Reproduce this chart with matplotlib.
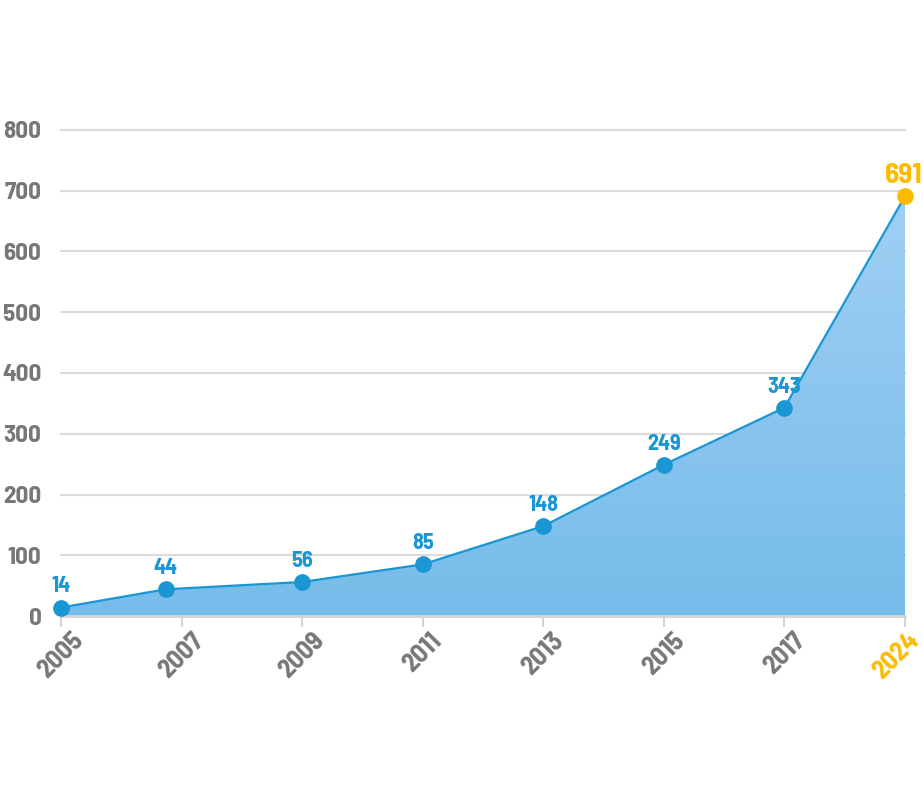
import numpy as np
import matplotlib
matplotlib.use('Agg')
import matplotlib.pyplot as plt
import matplotlib.transforms as mtransforms
from matplotlib.colors import LinearSegmentedColormap
from matplotlib import font_manager

years = ['2005', '2007', '2009', '2011', '2013', '2015', '2017', '2024']
values = [14, 44, 56, 85, 148, 249, 343, 691]
# the 2007 point sits a bit left of its tick in the original
xpos = [0, 0.87, 2, 3, 4, 5, 6, 7]
yticks = [0, 100, 200, 300, 400, 500, 600, 700, 800]

names = {f.name for f in font_manager.fontManager.ttflist}
fam = 'DejaVu Sans'
for cand in ['Barlow Semi Condensed', 'Roboto Condensed', 'Archivo Narrow', 'Oswald']:
    if cand in names:
        fam = cand
        break
plt.rcParams['font.family'] = [fam, 'DejaVu Sans']
plt.rcParams['font.weight'] = 'bold'

blue = '#1a96d4'
yellow = '#fdbb00'
gray = '#777777'

fig = plt.figure(figsize=(9.23, 7.92), dpi=100)
ax = fig.add_axes([0.066, 0.2222, 0.9145, 0.6137])

ax.set_xlim(0, 7)
ax.set_ylim(0, 800)

for y in yticks[1:]:
    ax.axhline(y, color='#dcdcdc', lw=1.5, zorder=0, clip_on=False)

# gradient area
poly = ax.fill_between(xpos, values, 0, color='none', lw=0)
cmap = LinearSegmentedColormap.from_list('g', ['#76bcea', '#a0cff3'])
grad = np.linspace(0, 1, 256).reshape(-1, 1)
im = ax.imshow(grad, cmap=cmap, origin='lower', aspect='auto',
               extent=[0, 7, 0, max(values)], zorder=1)
im.set_clip_path(poly.get_paths()[0], transform=ax.transData)

ax.plot(xpos, values, color=blue, lw=1.6, zorder=2)
ax.plot(xpos[:-1], values[:-1], 'o', color=blue, ms=11, zorder=3, clip_on=False)
ax.plot(xpos[-1], values[-1], 'o', color=yellow, ms=11, zorder=3, clip_on=False)

for x, v in zip(xpos[:-1], values[:-1]):
    ax.annotate(str(v), (x, v), xytext=(0, 8), textcoords='offset points',
                ha='center', va='bottom', color=blue, fontsize=16, fontweight='bold')
ax.annotate(str(values[-1]), (xpos[-1], values[-1]), xytext=(-1, 6), textcoords='offset points',
            ha='center', va='bottom', color=yellow, fontsize=21, fontweight='bold',
            annotation_clip=False)

for s in ['top', 'right', 'left']:
    ax.spines[s].set_visible(False)
ax.spines['bottom'].set_color('#d4d4d4')
ax.spines['bottom'].set_linewidth(2)

ax.set_xticks(range(len(years)))
ax.set_xticklabels(years, rotation=45, ha='center', va='top')
ax.tick_params(axis='x', length=8, width=1.5, color='#d4d4d4', labelsize=19,
               labelcolor=gray, pad=1)
last = ax.get_xticklabels()[-1]
last.set_color(yellow)
last.set_transform(last.get_transform() +
                   mtransforms.ScaledTranslation(-9 / 100, 0, fig.dpi_scale_trans))

ax.set_yticks(yticks)
ax.tick_params(axis='y', length=0, labelsize=18, labelcolor=gray, pad=14)
for t in ax.get_yticklabels() + ax.get_xticklabels():
    t.set_fontweight('bold')

fig.savefig('out.png', dpi=100)
